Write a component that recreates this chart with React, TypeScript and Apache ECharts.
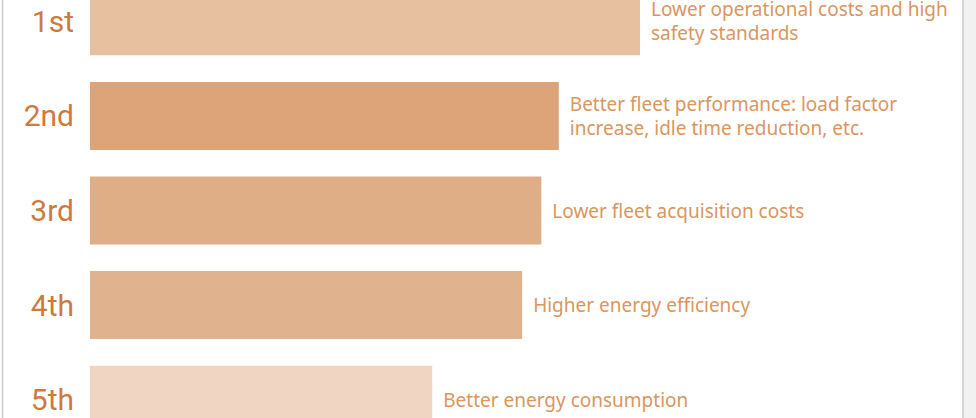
import React, { useEffect, useRef } from "react";
import * as echarts from "echarts";

// Ranking of benefits
const ranks = ["1st", "2nd", "3rd", "4th", "5th"];
const benefits = [
  "Lower operational costs and high\nsafety standards",
  "Better fleet performance: load factor\nincrease, idle time reduction, etc.",
  "Lower fleet acquisition costs",
  "Higher energy efficiency",
  "Better energy consumption",
];
const scores = [63.0, 53.7, 51.7, 49.5, 39.2];
const barColors = ["#e6c09f", "#dca478", "#dfae87", "#e0b38e", "#f0d6c2"];

// The chart canvas extends past the visible frame at top and bottom
const OFFSET_TOP = 26;
const CANVAS_H = 473;

export default function App() {
  const ref = useRef<HTMLDivElement>(null);

  useEffect(() => {
    if (!ref.current) return;
    const chart = echarts.init(ref.current, undefined, { renderer: "svg" });
    chart.setOption({
      animation: false,
      backgroundColor: "#ffffff",
      grid: { left: 90, right: 13, top: 0, bottom: 0, containLabel: false },
      xAxis: {
        type: "value",
        min: 0,
        max: 100,
        show: false,
      },
      yAxis: {
        type: "category",
        data: ranks,
        inverse: true,
        axisLine: { show: false },
        axisTick: { show: false },
        splitLine: { show: false },
        axisLabel: {
          margin: 16,
          color: "#cd7a3c",
          fontSize: 30,
          fontWeight: "normal",
          fontFamily: "Roboto, Liberation Sans, sans-serif",
        },
      },
      series: [
        {
          type: "bar",
          barWidth: 68,
          data: scores.map((v, i) => ({
            value: v,
            itemStyle: { color: barColors[i] },
            label: { formatter: benefits[i] },
          })),
          label: {
            show: true,
            position: "right",
            distance: 11,
            color: "#da9660",
            fontSize: 19,
            lineHeight: 24,
            fontFamily: "Noto Sans, sans-serif",
            align: "left",
          },
        },
      ],
      graphic: [
        {
          type: "rect",
          shape: { x: 964, y: 0, width: 12, height: CANVAS_H },
          style: { fill: "#f1f1f1" },
          silent: true,
        },
        {
          type: "line",
          shape: { x1: 2.5, y1: 0, x2: 2.5, y2: CANVAS_H },
          style: { stroke: "#c9c9c9", lineWidth: 1.5 },
          silent: true,
        },
        {
          type: "line",
          shape: { x1: 963, y1: 0, x2: 963, y2: CANVAS_H },
          style: { stroke: "#c9c9c9", lineWidth: 1.5 },
          silent: true,
        },
      ],
    });
    return () => chart.dispose();
  }, []);

  return (
    <div
      ref={ref}
      style={{
        position: "fixed",
        left: 0,
        top: -OFFSET_TOP,
        width: 976,
        height: CANVAS_H,
      }}
    />
  );
}
